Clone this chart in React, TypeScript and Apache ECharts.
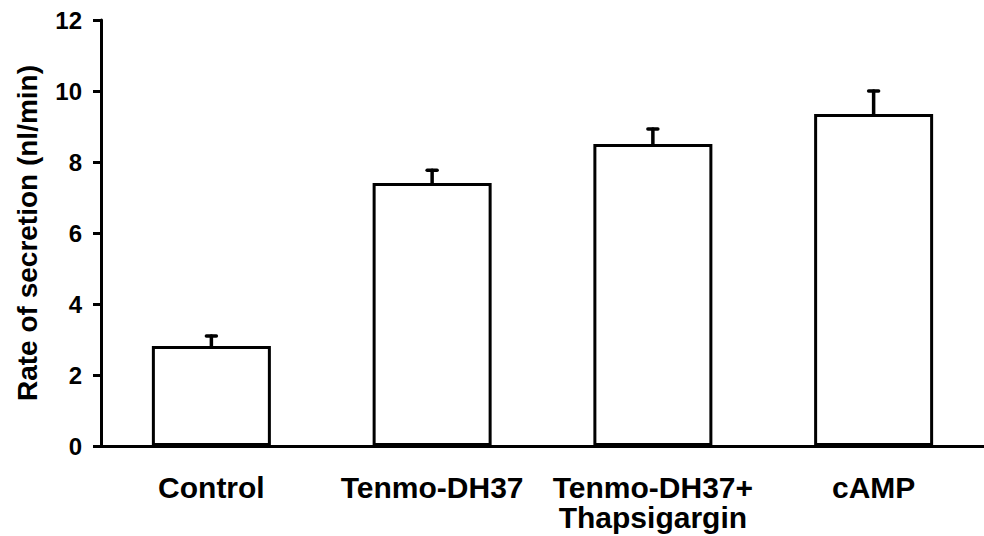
import React, { useEffect, useRef } from "react";
import * as echarts from "echarts";

const categories = ["Control", "Tenmo-DH37", "Tenmo-DH37+\nThapsigargin", "cAMP"];
const means = [2.82, 7.41, 8.51, 9.35];
const sem = [0.28, 0.36, 0.42, 0.65];
const yTicks = { min: 0, max: 12, interval: 2 };

const FONT = "'Liberation Sans', Arial, sans-serif";

export default function App() {
  const ref = useRef<HTMLDivElement>(null);
  useEffect(() => {
    if (!ref.current) return;
    const chart = echarts.init(ref.current, null, { renderer: "svg" });
    const errData = categories.map((_, i) => [i, means[i], means[i] + sem[i]]);
    chart.setOption({
      animation: false,
      backgroundColor: "#ffffff",
      grid: { left: 101, right: -10, top: 20, bottom: 90, containLabel: false },
      xAxis: {
        type: "category",
        data: categories,
        axisLine: { show: true, lineStyle: { color: "#000", width: 3 } },
        axisTick: { show: false },
        axisLabel: {
          color: "#000",
          fontFamily: FONT,
          fontWeight: "bold",
          fontSize: 30,
          lineHeight: 30,
          margin: 26,
          interval: 0,
        },
        splitLine: { show: false },
      },
      yAxis: {
        type: "value",
        min: yTicks.min,
        max: yTicks.max,
        interval: yTicks.interval,
        name: "Rate of secretion (nl/min)",
        nameLocation: "middle",
        nameGap: 60,
        nameTextStyle: { color: "#000", fontFamily: FONT, fontWeight: "bold", fontSize: 28 },
        axisLine: { show: true, lineStyle: { color: "#000", width: 3 } },
        axisTick: { show: true, length: 8, lineStyle: { color: "#000", width: 3 } },
        axisLabel: { color: "#000", fontFamily: FONT, fontWeight: "bold", fontSize: 24, margin: 19 },
        splitLine: { show: false },
      },
      series: [
        {
          type: "bar",
          data: means,
          barWidth: 119,
          itemStyle: { color: "#ffffff", borderColor: "#000", borderWidth: 3 },
          z: 2,
        },
        {
          type: "custom",
          data: errData,
          z: 3,
          renderItem: (params: any, api: any) => {
            const base = api.coord([api.value(0), api.value(1)]);
            const top = api.coord([api.value(0), api.value(2)]);
            const style = { stroke: "#000", lineWidth: 3.5, lineCap: "round" };
            return {
              type: "group",
              children: [
                { type: "line", shape: { x1: base[0], y1: base[1], x2: top[0], y2: top[1] }, style },
                { type: "line", shape: { x1: top[0] - 5, y1: top[1], x2: top[0] + 5, y2: top[1] }, style },
              ],
            };
          },
        },
      ],
    });
    return () => chart.dispose();
  }, []);
  return (
    <div
      ref={ref}
      style={{ position: "fixed", left: 0, top: 0, width: 984, height: 536, background: "#fff" }}
    />
  );
}
